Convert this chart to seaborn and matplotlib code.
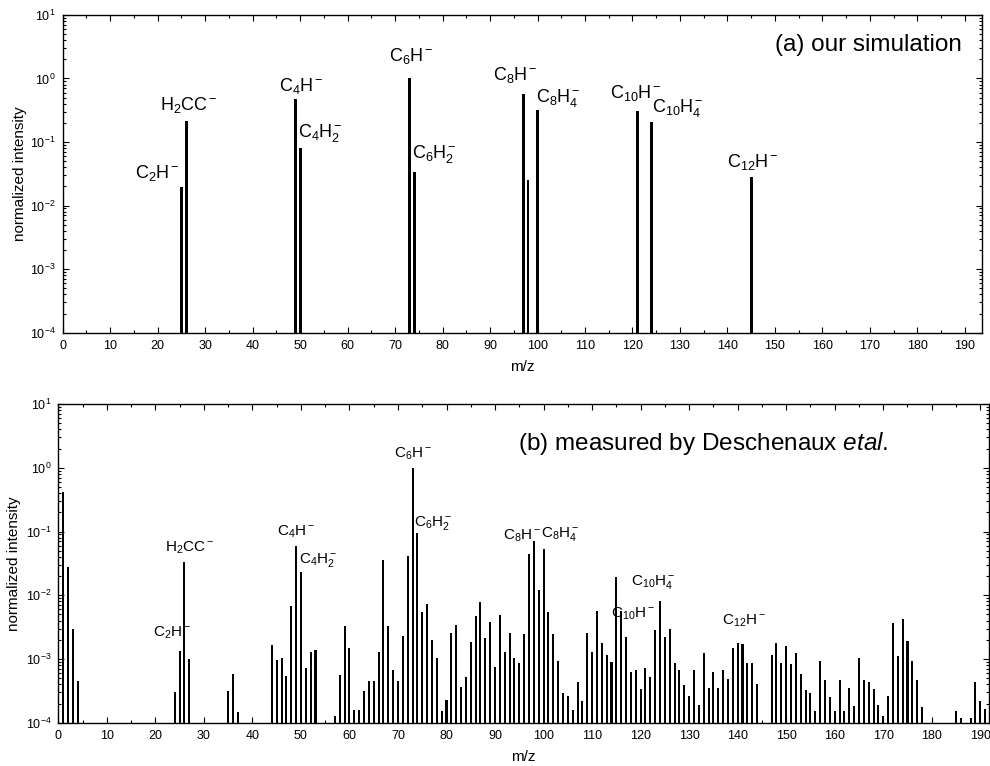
import numpy as np
import pandas as pd
import matplotlib
matplotlib.use("Agg")
import matplotlib.pyplot as plt
from matplotlib.ticker import MultipleLocator, LogLocator, NullFormatter
import seaborn as sns

# (a) simulación: m/z e intensidad normalizada
sim_mz = [25, 26, 49, 50, 73, 74, 97, 98, 100, 121, 124, 145]
sim_int = [0.0194, 0.216, 0.47, 0.08, 1.0, 0.034, 0.57, 0.025, 0.32, 0.31, 0.21, 0.0285]

# (b) medido (Deschenaux et al.)
med_mz = [1, 2, 3, 4, 24, 25, 26, 27, 35, 36, 37,
          44, 45, 46, 47, 48, 49, 50, 51, 52, 53,
          57, 58, 59, 60, 61, 62, 63, 64, 65, 66, 67, 68, 69, 70,
          71, 72, 73, 74, 75, 76, 77, 78, 79, 80,
          81, 82, 83, 84, 85, 86, 87, 88, 89, 90,
          91, 92, 93, 94, 95, 96, 97, 98, 99, 100,
          101, 102, 103, 104, 105, 106, 107, 108, 109, 110,
          111, 112, 113, 114, 115, 116, 117, 118, 119, 120,
          121, 122, 123, 124, 125, 126, 127, 128, 129, 130,
          131, 132, 133, 134, 135, 136, 137, 138, 139, 140,
          141, 142, 143, 144, 147, 148, 149, 150,
          151, 152, 153, 154, 155, 156, 157, 158, 159, 160,
          161, 162, 163, 164, 165, 166, 167, 168, 169, 170,
          171, 172, 173, 174, 175, 176, 177, 178,
          185, 186, 188, 189, 190, 191]
med_int = [0.41, 0.0275, 0.003, 4.5e-4, 3.0e-4, 1.35e-3, 0.033, 9.9e-4, 3.2e-4, 5.9e-4, 1.45e-4,
           1.63e-3, 9.5e-4, 1.05e-3, 5.4e-4, 6.9e-3, 0.060, 0.023, 7.3e-4, 1.3e-3, 1.4e-3,
           1.27e-4, 5.7e-4, 3.3e-3, 1.5e-3, 1.6e-4, 1.6e-4, 3.1e-4, 4.5e-4, 4.5e-4, 1.27e-3, 0.036, 3.3e-3, 6.8e-4, 4.5e-4,
           2.3e-3, 0.042, 1.0, 0.096, 5.4e-3, 7.4e-3, 2.0e-3, 1.04e-3, 1.5e-4, 2.3e-4,
           2.6e-3, 3.4e-3, 3.7e-4, 5.2e-4, 1.87e-3, 4.8e-3, 7.7e-3, 2.1e-3, 3.8e-3, 7.5e-4,
           4.9e-3, 1.27e-3, 2.6e-3, 1.04e-3, 8.8e-4, 2.5e-3, 0.044, 0.072, 0.0123, 0.054,
           5.4e-3, 2.5e-3, 9.3e-4, 2.9e-4, 2.6e-4, 1.6e-4, 4.3e-4, 2.2e-4, 2.6e-3, 1.3e-3,
           5.6e-3, 1.8e-3, 1.14e-3, 8.9e-4, 0.0195, 5.6e-3, 2.2e-3, 6.3e-4, 6.7e-4, 3.4e-4,
           7.3e-4, 5.3e-4, 2.9e-3, 8.1e-3, 2.2e-3, 3.0e-3, 8.5e-4, 6.6e-4, 3.9e-4, 2.6e-4,
           6.6e-4, 1.9e-4, 1.24e-3, 3.45e-4, 6.3e-4, 3.45e-4, 6.6e-4, 4.9e-4, 1.47e-3, 1.8e-3,
           1.74e-3, 8.6e-4, 8.5e-4, 4.0e-4, 1.17e-3, 1.8e-3, 8.6e-4, 1.6e-3,
           8.3e-4, 1.26e-3, 5.8e-4, 3.3e-4, 2.9e-4, 1.5e-4, 9.2e-4, 4.6e-4, 2.5e-4, 1.5e-4,
           4.6e-4, 1.5e-4, 3.45e-4, 1.8e-4, 1.05e-3, 4.6e-4, 4.4e-4, 3.4e-4, 1.9e-4, 1.27e-4,
           2.6e-4, 3.7e-3, 1.1e-3, 4.2e-3, 1.9e-3, 9.4e-4, 4.6e-4, 1.74e-4,
           1.5e-4, 1.2e-4, 1.2e-4, 4.3e-4, 2.2e-4, 1.65e-4]

# etiquetas de picos
sim_etiquetas = [r'$C_2H^-$', r'$H_2CC^-$', r'$C_4H^-$', r'$C_4H_2^-$', r'$C_6H^-$', r'$C_6H_2^-$',
                 r'$C_8H^-$', r'$C_8H_4^-$', r'$C_{10}H^-$', r'$C_{10}H_4^-$', r'$C_{12}H^-$']
sim_pos = [(24.6, 0.033, 'right'), (26.6, 0.385, 'center'), (50.2, 0.75, 'center'),
           (49.6, 0.14, 'left'), (73.4, 2.27, 'center'), (73.5, 0.065, 'left'),
           (95.3, 1.14, 'center'), (99.7, 0.50, 'left'), (120.7, 0.60, 'center'),
           (124.05, 0.34, 'left'), (145.3, 0.049, 'center')]

med_etiquetas = [r'$C_2H^-$', r'$H_2CC^-$', r'$C_4H^-$', r'$C_4H_2^-$', r'$C_6H^-$', r'$C_6H_2^-$',
                 r'$C_8H^-$', r'$C_8H_4^-$', r'$C_{10}H_4^-$', r'$C_{10}H^-$', r'$C_{12}H^-$']
med_pos = [(23.5, 2.6e-3, 'center'), (27.1, 0.056, 'center'), (49.0, 0.10, 'center'),
           (49.5, 0.036, 'left'), (73.0, 1.63, 'center'), (73.2, 0.138, 'left'),
           (95.6, 0.085, 'center'), (99.5, 0.091, 'left'), (122.6, 0.016, 'center'),
           (118.4, 5.1e-3, 'center'), (141.3, 4.0e-3, 'center')]

sns.set_theme(style="ticks")
plt.rcParams['font.family'] = ['Liberation Sans', 'DejaVu Sans']
plt.rcParams.update({
    'mathtext.fontset': 'custom',
    'mathtext.rm': 'Liberation Sans',
    'mathtext.it': 'Liberation Sans:italic',
    'mathtext.bf': 'Liberation Sans:bold',
    'mathtext.default': 'regular',
    'axes.edgecolor': 'black',
    'axes.linewidth': 1.0,
    'xtick.color': 'black',
    'ytick.color': 'black',
    'text.color': 'black',
    'axes.labelcolor': 'black',
})

fig = plt.figure(figsize=(9.9, 7.66), dpi=100)
ax1 = fig.add_axes([0.0633, 0.5657, 0.9286, 0.4148])
ax2 = fig.add_axes([0.0589, 0.0565, 0.9401, 0.4160])


def dibujar(ax, mz, inten, ancho, xmax, ylab_x):
    df = pd.DataFrame({'mz': mz, 'inten': inten})
    sns.barplot(data=df, x='mz', y='inten', native_scale=True,
                width=ancho, color='black', saturation=1, errorbar=None,
                linewidth=0, ax=ax)
    ax.set_yscale('log')
    ax.set_xlim(0, xmax)
    ax.set_ylim(1e-4, 10)
    ax.xaxis.set_major_locator(MultipleLocator(10))
    ax.xaxis.set_minor_locator(MultipleLocator(5))
    ax.yaxis.set_major_locator(LogLocator(base=10, numticks=10))
    ax.yaxis.set_minor_locator(LogLocator(base=10, subs=np.arange(2, 10), numticks=20))
    ax.yaxis.set_minor_formatter(NullFormatter())
    ax.tick_params(which='both', direction='in', top=True, right=True, pad=5, labelsize=9)
    ax.tick_params(which='major', length=4, width=0.8)
    ax.tick_params(which='minor', length=2, width=0.8)
    ax.set_xlabel('m/z', fontsize=11, labelpad=6)
    ax.set_ylabel('normalized intensity', fontsize=11)
    ax.yaxis.set_label_coords(ylab_x, 0.5)


dibujar(ax1, sim_mz, sim_int, 0.62, 193.6, -0.039)
dibujar(ax2, med_mz, med_int, 0.42, 191.8, -0.040)

for txt, (x, y, ha) in zip(sim_etiquetas, sim_pos):
    ax1.text(x, y, txt, ha=ha, va='center', fontsize=13)
for txt, (x, y, ha) in zip(med_etiquetas, med_pos):
    ax2.text(x, y, txt, ha=ha, va='center', fontsize=11)

ax1.text(0.978, 0.906, '(a) our simulation', transform=ax1.transAxes,
         ha='right', va='center', fontsize=17.5)
ax2.text(0.494, 0.877, r'(b) measured by Deschenaux $\mathit{etal.}$', transform=ax2.transAxes,
         ha='left', va='center', fontsize=17.5)

fig.savefig('out.png', dpi=100)
